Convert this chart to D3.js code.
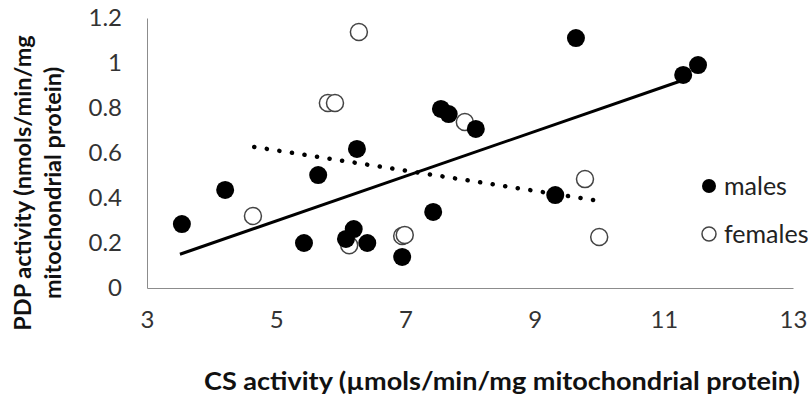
<!DOCTYPE html>
<html>
<head>
<meta charset="utf-8">
<script src="https://cdn.jsdelivr.net/npm/d3@7"></script>
<style>
  body { margin: 0; background: #fff; }
  svg { display: block; font-family: Lato, "Open Sans", sans-serif; }
</style>
</head>
<body>
<div id="chart"></div>
<script>
// values
const maleX = [3.54, 4.21, 5.43, 5.65, 6.25, 6.08, 6.20, 6.41, 6.95, 7.43, 7.55, 7.67, 8.09, 9.64, 11.30, 11.53, 9.32];
const maleY = [0.284, 0.436, 0.20, 0.502, 0.618, 0.218, 0.262, 0.20, 0.138, 0.338, 0.796, 0.773, 0.707, 1.111, 0.947, 0.991, 0.413];
const femaleX = [4.64, 5.80, 5.91, 6.28, 6.13, 6.95, 6.99, 7.92, 9.78, 10.0];
const femaleY = [0.32, 0.822, 0.822, 1.138, 0.19, 0.231, 0.236, 0.738, 0.484, 0.227];
const maleTrend = [[3.51, 0.150], [11.26, 0.92]];
const femaleTrend = [[4.66, 0.627], [10.0, 0.387]];
const xTicks = [3, 5, 7, 9, 11, 13];
const yTicks = [0, 0.2, 0.4, 0.6, 0.8, 1, 1.2];
const legendLabels = ["males", "females"];

const width = 808, height = 399;
const plot = { left: 147, right: 793, top: 18, bottom: 288 };

const svg = d3.select("#chart").append("svg").attr("width", width).attr("height", height);

const x = d3.scaleLinear().domain([3, 13]).range([plot.left, plot.right]);
const y = d3.scaleLinear().domain([0, 1.2]).range([plot.bottom, plot.top]);

// axes
const xAxis = svg.append("g")
    .attr("transform", `translate(0,${plot.bottom})`)
    .call(d3.axisBottom(x).tickValues(xTicks).tickSize(0).tickPadding(32).tickFormat(d3.format("d")));
const yAxis = svg.append("g")
    .attr("transform", `translate(${plot.left},0)`)
    .call(d3.axisLeft(y).tickValues(yTicks).tickSize(0).tickPadding(25).tickFormat(d3.format("")));

[xAxis, yAxis].forEach(g => {
    g.select(".domain").attr("stroke", "#8c8c8c").attr("stroke-width", 1);
    g.selectAll("text").attr("fill", "#333").style("font-size", "24px").style("font-family", "Lato, sans-serif");
});
xAxis.selectAll("text").attr("dy", "0.35em");

// points: females first, males drawn on top
const females = femaleX.map((v, i) => [v, femaleY[i]]);
const males = maleX.map((v, i) => [v, maleY[i]]);

svg.append("g").selectAll("circle")
    .data(females)
    .join("circle")
    .attr("cx", d => x(d[0]))
    .attr("cy", d => y(d[1]))
    .attr("r", 8.5)
    .attr("fill", "#fff")
    .attr("stroke", "#444")
    .attr("stroke-width", 1.5);

svg.append("g").selectAll("circle")
    .data(males)
    .join("circle")
    .attr("cx", d => x(d[0]))
    .attr("cy", d => y(d[1]))
    .attr("r", 9)
    .attr("fill", "#000");

// trend lines
const line = d3.line().x(d => x(d[0])).y(d => y(d[1]));
svg.append("path")
    .attr("d", line(maleTrend))
    .attr("fill", "none")
    .attr("stroke", "#000")
    .attr("stroke-width", 3);
svg.append("path")
    .attr("d", line(femaleTrend))
    .attr("fill", "none")
    .attr("stroke", "#000")
    .attr("stroke-width", 4.5)
    .attr("stroke-linecap", "round")
    .attr("stroke-dasharray", "0.1 12.6");

// legend
const legend = svg.append("g").attr("transform", "translate(709,186)");
legendLabels.forEach((lab, i) => {
    const row = legend.append("g").attr("transform", `translate(0,${i * 48})`);
    row.append("circle")
        .attr("r", 7)
        .attr("fill", i === 0 ? "#000" : "#fff")
        .attr("stroke", i === 0 ? "none" : "#444")
        .attr("stroke-width", 1.5);
    row.append("text")
        .attr("x", 15)
        .attr("dy", "0.35em")
        .attr("fill", "#222")
        .style("font-size", "25px")
        .text(lab);
});

// axis titles
svg.append("text")
    .attr("x", 204)
    .attr("y", 381)
    .attr("dy", "0.35em")
    .attr("fill", "#111")
    .attr("textLength", 596)
    .attr("lengthAdjust", "spacingAndGlyphs")
    .style("font-size", "25px")
    .style("font-weight", "bold")
    .text("CS activity (\u00b5mols/min/mg mitochondrial protein)");

const yTitle = svg.append("text")
    .attr("transform", "translate(0,183) rotate(-90)")
    .attr("text-anchor", "middle")
    .attr("fill", "#111")
    .style("font-size", "23.5px")
    .style("font-weight", "bold");
yTitle.append("tspan").attr("x", 0).attr("y", 23).attr("dy", "0.35em").text("PDP activity (nmols/min/mg");
yTitle.append("tspan").attr("x", 0).attr("y", 53).attr("dy", "0.35em").text("mitochondrial protein)");
</script>
</body>
</html>
